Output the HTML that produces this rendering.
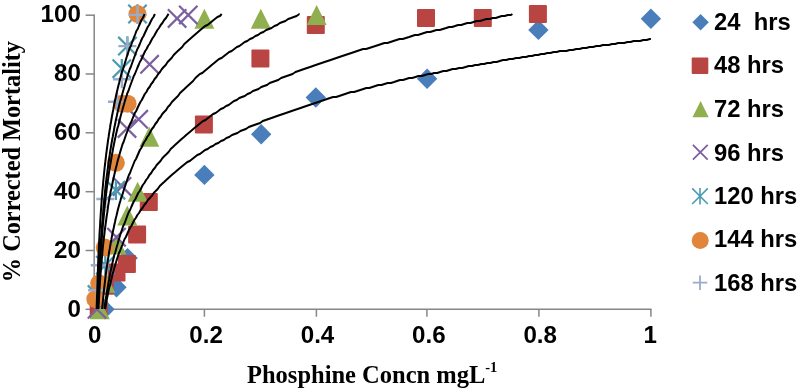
<!DOCTYPE html>
<html><head><meta charset="utf-8"><title>chart</title>
<style>
html,body{margin:0;padding:0;background:#fff;}
body{width:799px;height:388px;overflow:hidden;position:relative;font-family:"Liberation Sans",sans-serif;}
svg{position:absolute;left:0;top:0;will-change:transform;}
.a{font-family:"Liberation Sans",sans-serif;font-weight:bold;font-size:23px;fill:#000;}
.t{font-family:"Liberation Serif",serif;font-weight:bold;fill:#000;}
</style></head><body>
<svg width="799" height="388" viewBox="0 0 799 388">
<rect width="799" height="388" fill="#fff"/>
<g stroke="#868686" stroke-width="1.5" fill="none">
<path d="M94.2 14.5L94.2 309.3"/>
<path d="M94.2 309.3L651.6 309.3"/>
<path d="M85.60000000000001 309.3L94.2 309.3"/>
<path d="M94.2 309.3L94.2 316.7"/>
<path d="M85.60000000000001 250.5L94.2 250.5"/>
<path d="M204.4 309.3L204.4 316.7"/>
<path d="M85.60000000000001 191.7L94.2 191.7"/>
<path d="M316.4 309.3L316.4 316.7"/>
<path d="M85.60000000000001 132.8L94.2 132.8"/>
<path d="M426.9 309.3L426.9 316.7"/>
<path d="M85.60000000000001 74.0L94.2 74.0"/>
<path d="M538.9 309.3L538.9 316.7"/>
<path d="M85.60000000000001 15.2L94.2 15.2"/>
<path d="M650.9 309.3L650.9 316.7"/>
</g>
<text class="a" transform="translate(80.9 317.1) scale(1.05 1)" text-anchor="end">0</text>
<text class="a" transform="translate(80.9 258.0) scale(1.05 1)" text-anchor="end">20</text>
<text class="a" transform="translate(80.9 198.9) scale(1.05 1)" text-anchor="end">40</text>
<text class="a" transform="translate(80.9 139.7) scale(1.05 1)" text-anchor="end">60</text>
<text class="a" transform="translate(80.9 80.6) scale(1.05 1)" text-anchor="end">80</text>
<text class="a" transform="translate(80.9 21.5) scale(1.05 1)" text-anchor="end">100</text>
<text class="a" transform="translate(94.8 343.3) scale(1.05 1)" text-anchor="middle">0</text>
<text class="a" transform="translate(206.1 343.3) scale(1.05 1)" text-anchor="middle">0.2</text>
<text class="a" transform="translate(317.5 343.3) scale(1.05 1)" text-anchor="middle">0.4</text>
<text class="a" transform="translate(428.8 343.3) scale(1.05 1)" text-anchor="middle">0.6</text>
<text class="a" transform="translate(540.2 343.3) scale(1.05 1)" text-anchor="middle">0.8</text>
<text class="a" transform="translate(650.3 343.3) scale(1.05 1)" text-anchor="middle">1</text>
<path d="M104.5 299.1L114.7 309.3L104.5 319.5L94.3 309.3Z" fill="#4a7ebb"/>
<path d="M116.5 277.0L126.7 287.2L116.5 297.4L106.3 287.2Z" fill="#4a7ebb"/>
<path d="M127.6 247.9L137.8 258.1L127.6 268.3L117.4 258.1Z" fill="#4a7ebb"/>
<path d="M204.4 164.7L214.6 174.9L204.4 185.1L194.2 174.9Z" fill="#4a7ebb"/>
<path d="M261.2 124.1L271.4 134.3L261.2 144.5L251.0 134.3Z" fill="#4a7ebb"/>
<path d="M315.8 87.3L326.0 97.5L315.8 107.7L305.6 97.5Z" fill="#4a7ebb"/>
<path d="M427.1 68.5L437.3 78.7L427.1 88.9L416.9 78.7Z" fill="#4a7ebb"/>
<path d="M538.4 19.7L548.6 29.9L538.4 40.1L528.2 29.9Z" fill="#4a7ebb"/>
<path d="M650.9 8.5L661.1 18.7L650.9 28.9L640.7 18.7Z" fill="#4a7ebb"/>
<rect x="89.7" y="300.3" width="18" height="18" rx="1" fill="#b94542"/>
<rect x="95.8" y="276.8" width="18" height="18" rx="1" fill="#b94542"/>
<rect x="107.5" y="263.5" width="18" height="18" rx="1" fill="#b94542"/>
<rect x="117.9" y="255.0" width="18" height="18" rx="1" fill="#b94542"/>
<rect x="128.1" y="225.6" width="18" height="18" rx="1" fill="#b94542"/>
<rect x="139.8" y="193.0" width="18" height="18" rx="1" fill="#b94542"/>
<rect x="194.9" y="115.6" width="18" height="18" rx="1" fill="#b94542"/>
<rect x="251.4" y="49.4" width="18" height="18" rx="1" fill="#b94542"/>
<rect x="306.8" y="15.9" width="18" height="18" rx="1" fill="#b94542"/>
<rect x="417.0" y="9.1" width="18" height="18" rx="1" fill="#b94542"/>
<rect x="473.8" y="9.1" width="18" height="18" rx="1" fill="#b94542"/>
<rect x="528.9" y="5.0" width="18" height="18" rx="1" fill="#b94542"/>
<path d="M99.8 299.3L109.8 319.3L89.8 319.3Z" fill="#90b04f"/>
<path d="M105.3 272.8L115.3 292.8L95.3 292.8Z" fill="#90b04f"/>
<path d="M116.5 234.6L126.5 254.6L106.5 254.6Z" fill="#90b04f"/>
<path d="M127.3 205.5L137.3 225.5L117.3 225.5Z" fill="#90b04f"/>
<path d="M137.6 181.7L147.6 201.7L127.6 201.7Z" fill="#90b04f"/>
<path d="M149.3 126.7L159.3 146.7L139.3 146.7Z" fill="#90b04f"/>
<path d="M204.4 8.7L214.4 28.7L194.4 28.7Z" fill="#90b04f"/>
<path d="M260.8 8.7L270.8 28.7L250.8 28.7Z" fill="#90b04f"/>
<path d="M316.6 4.9L326.6 24.9L306.6 24.9Z" fill="#90b04f"/>
<path d="M87.8 300.1L106.2 318.5M87.8 318.5L106.2 300.1" stroke="#7d60a0" stroke-width="2.2" fill="none"/>
<path d="M107.3 228.0L125.7 246.4M107.3 246.4L125.7 228.0" stroke="#7d60a0" stroke-width="2.2" fill="none"/>
<path d="M112.8 177.2L131.2 195.6M112.8 195.6L131.2 177.2" stroke="#7d60a0" stroke-width="2.2" fill="none"/>
<path d="M117.8 119.2L136.2 137.6M117.8 137.6L136.2 119.2" stroke="#7d60a0" stroke-width="2.2" fill="none"/>
<path d="M129.5 110.1L147.9 128.5M129.5 128.5L147.9 110.1" stroke="#7d60a0" stroke-width="2.2" fill="none"/>
<path d="M140.4 55.1L158.8 73.5M140.4 73.5L158.8 55.1" stroke="#7d60a0" stroke-width="2.2" fill="none"/>
<path d="M167.9 9.2L186.3 27.6M167.9 27.6L186.3 9.2" stroke="#7d60a0" stroke-width="2.2" fill="none"/>
<path d="M179.1 5.7L197.5 24.1M179.1 24.1L197.5 5.7" stroke="#7d60a0" stroke-width="2.2" fill="none"/>
<path d="M87.8 285.4L106.2 303.8M87.8 303.8L106.2 285.4M97.0 284.8L97.0 304.3" stroke="#4a9cb3" stroke-width="2.2" fill="none"/>
<path d="M96.1 256.0L114.5 274.4M96.1 274.4L114.5 256.0M105.3 255.4L105.3 274.9" stroke="#4a9cb3" stroke-width="2.2" fill="none"/>
<path d="M106.7 181.0L125.1 199.4M106.7 199.4L125.1 181.0M115.9 180.4L115.9 199.9" stroke="#4a9cb3" stroke-width="2.2" fill="none"/>
<path d="M112.6 59.5L131.0 77.9M112.6 77.9L131.0 59.5M121.8 59.0L121.8 78.5" stroke="#4a9cb3" stroke-width="2.2" fill="none"/>
<path d="M118.2 36.9L136.6 55.3M118.2 55.3L136.6 36.9M127.4 36.3L127.4 55.8" stroke="#4a9cb3" stroke-width="2.2" fill="none"/>
<path d="M128.3 4.8L146.7 23.2M128.3 23.2L146.7 4.8M137.5 4.3L137.5 23.8" stroke="#4a9cb3" stroke-width="2.2" fill="none"/>
<circle cx="95.3" cy="299.0" r="9" fill="#e0853a"/>
<circle cx="99.2" cy="283.4" r="9" fill="#e0853a"/>
<circle cx="104.8" cy="247.5" r="9" fill="#e0853a"/>
<circle cx="115.9" cy="162.8" r="9" fill="#e0853a"/>
<circle cx="122.0" cy="103.7" r="9" fill="#e0853a"/>
<circle cx="127.6" cy="103.7" r="9" fill="#e0853a"/>
<circle cx="137.5" cy="14.0" r="9" fill="#e0853a"/>
<path d="M88.0 290.2L106.0 290.2M97.0 281.2L97.0 299.2" stroke="#9aacca" stroke-width="2.4" fill="none"/>
<path d="M90.8 265.2L108.8 265.2M99.8 256.2L99.8 274.2" stroke="#9aacca" stroke-width="2.4" fill="none"/>
<path d="M96.3 199.0L114.3 199.0M105.3 190.0L105.3 208.0" stroke="#9aacca" stroke-width="2.4" fill="none"/>
<path d="M108.0 101.7L126.0 101.7M117.0 92.7L117.0 110.7" stroke="#9aacca" stroke-width="2.4" fill="none"/>
<path d="M112.9 79.3L130.9 79.3M121.9 70.3L121.9 88.3" stroke="#9aacca" stroke-width="2.4" fill="none"/>
<path d="M118.4 46.1L136.4 46.1M127.4 37.1L127.4 55.1" stroke="#9aacca" stroke-width="2.4" fill="none"/>
<path d="M128.6 14.9L146.6 14.9M137.6 5.9L137.6 23.9" stroke="#9aacca" stroke-width="2.4" fill="none"/>
<g>
<path d="M96.7 309L96.7 306L96.8 303L96.9 300L97 297L97.1 294L97.2 291L97.3 288L97.4 285L97.5 282L97.6 279L97.7 276L97.8 273L97.9 270L98 267L98.1 264L98.2 261L98.4 258L98.5 255L98.6 252L98.8 249L98.9 246L99.1 243L99.2 240L99.4 237L99.5 234L99.7 231L99.9 228L100.1 225L100.2 222L100.4 219L100.6 216L100.8 213L101 210L101.3 206L101.5 203L101.7 200L101.9 197L102.2 194L102.4 191L102.7 188L103 185L103.2 182L103.5 179L103.8 176L104.1 173L104.4 170L104.7 167L105.1 164L105.4 161L105.8 158L106.1 155L106.5 152L106.9 149L107.3 146L107.7 143L108.1 140L108.6 137L109 134L109.5 131L110 128L110.4 125L111 122L111.5 119L112 116L112.6 113L113.2 110L113.7 107L114.3 104L114.9 101L115.6 98L116.2 95L116.9 92L117.6 89L118.3 86L119.1 83L119.8 80L120.6 77L121.4 74L122.2 71L123.1 69L124 66L124.9 63L125.8 60L126.7 57L127.7 54L128.7 51L129.7 48L130.8 46L131.9 43L133 40L134.1 37L135.3 34L136.4 31L137.7 29L138.9 26L140.2 23L141.5 20L142.8 18L144.2 15L144.5 14" fill="none" stroke="#000" stroke-width="2" stroke-linejoin="round" stroke-linecap="butt"/>
<path d="M97.7 309L97.8 306L97.9 303L98 300L98.1 297L98.2 294L98.3 291L98.5 288L98.6 285L98.7 282L98.8 279L99 276L99.1 273L99.3 270L99.4 267L99.6 264L99.7 261L99.9 258L100.1 255L100.3 252L100.4 249L100.6 246L100.8 243L101 240L101.2 237L101.4 234L101.6 231L101.9 228L102.1 225L102.3 222L102.6 219L102.8 216L103.1 213L103.3 210L103.6 206L103.9 203L104.2 200L104.5 197L104.8 194L105.1 191L105.4 188L105.7 185L106.1 182L106.4 179L106.8 176L107.2 173L107.6 170L108 167L108.4 164L108.8 161L109.2 158L109.7 155L110.1 152L110.6 149L111.1 146L111.6 143L112.1 140L112.7 137L113.2 134L113.8 131L114.3 128L114.9 125L115.5 122L116.1 119L116.8 116L117.4 113L118.1 110L118.8 107L119.5 104L120.3 101L121 99L121.8 96L122.6 93L123.4 90L124.3 87L125.1 84L126 81L126.9 78L127.8 75L128.8 72L129.8 69L130.8 67L131.8 64L132.9 61L134 58L135.1 55L136.2 52L137.4 49L138.5 47L139.8 44L141 41L142.3 38L143.6 36L144.9 33L146.3 30L147.7 27L149.1 25L150.5 22L152 19L153.5 17L154.9 14" fill="none" stroke="#000" stroke-width="2" stroke-linejoin="round" stroke-linecap="butt"/>
<path d="M97.9 309L98 306L98.1 303L98.2 300L98.4 297L98.5 294L98.6 291L98.8 288L98.9 285L99.1 282L99.2 279L99.4 276L99.5 273L99.7 270L99.9 267L100 264L100.2 261L100.4 258L100.6 255L100.8 252L101 249L101.2 246L101.5 243L101.7 240L101.9 237L102.2 234L102.4 231L102.7 228L102.9 225L103.2 222L103.5 219L103.8 216L104.1 213L104.4 210L104.7 206L105 203L105.4 200L105.7 197L106.1 194L106.5 191L106.8 188L107.2 185L107.6 182L108.1 179L108.5 176L108.9 173L109.4 170L109.9 167L110.4 164L110.9 161L111.4 158L111.9 155L112.5 152L113 149L113.6 146L114.2 143L114.8 140L115.5 137L116.1 134L116.8 131L117.5 128L118.2 126L118.9 123L119.7 120L120.4 117L121.2 114L122.1 111L122.9 108L123.8 105L124.6 102L125.5 99L126.5 96L127.4 93L128.4 91L129.4 88L130.5 85L131.6 82L132.7 79L133.8 76L134.9 74L136.1 71L137.3 68L138.6 65L139.8 62L141.1 60L142.4 57L143.8 54L145.2 51L146.6 49L148 46L149.5 44L151 41L152.6 38L154.1 36L155.7 33L157.4 30L159 28L160.7 25L162.4 23L164.2 20L166 18L167.8 15L168.7 14" fill="none" stroke="#000" stroke-width="2" stroke-linejoin="round" stroke-linecap="butt"/>
<path d="M98.4 309L98.6 306L98.8 303L98.9 300L99.1 297L99.3 294L99.4 291L99.6 288L99.8 285L100 282L100.2 279L100.4 276L100.7 273L100.9 270L101.1 267L101.4 264L101.6 261L101.9 258L102.2 255L102.4 252L102.7 249L103 246L103.3 243L103.7 240L104 237L104.4 234L104.7 231L105.1 228L105.5 225L105.9 222L106.3 219L106.7 216L107.2 213L107.6 210L108.1 206L108.6 203L109.1 200L109.6 197L110.2 194L110.7 191L111.3 189L111.9 186L112.5 183L113.1 180L113.8 177L114.5 174L115.2 171L115.9 168L116.7 165L117.4 162L118.2 159L119.1 156L119.9 153L120.8 150L121.7 147L122.6 144L123.6 142L124.6 139L125.6 136L126.7 133L127.8 130L128.9 127L130 124L131.2 122L132.4 119L133.6 116L134.9 113L136.2 111L137.5 108L138.9 105L140.4 102L141.8 100L143.3 97L144.8 94L146.4 92L147.9 89L149.6 87L151.2 84L152.9 82L154.6 79L156.4 77L158.2 74L160 72L161.9 69L163.7 67L165.7 65L167.6 62L169.6 60L171.6 58L173.7 55L175.7 53L177.8 51L180 49L182.2 47L184.3 44L186.6 42L188.8 40L191.1 38L193.4 36L195.7 34L198 32L200.3 30L202.7 28L205.1 26L207.5 25L210 23L212.4 21L214.9 19L217.4 17L219.9 16L221.7 14" fill="none" stroke="#000" stroke-width="2" stroke-linejoin="round" stroke-linecap="butt"/>
<path d="M102.1 309L102.4 306L102.7 303L103 300L103.3 297L103.6 294L103.9 291L104.2 288L104.6 285L104.9 282L105.3 279L105.6 276L106 273L106.4 270L106.8 267L107.3 264L107.7 261L108.2 258L108.7 255L109.1 252L109.7 249L110.2 246L110.7 243L111.3 240L111.8 237L112.4 234L113 231L113.7 228L114.3 225L115 222L115.6 219L116.4 216L117.1 213L117.8 210L118.6 207L119.4 204L120.3 201L121.1 198L122 196L122.9 193L123.8 190L124.8 187L125.8 184L126.8 181L127.8 178L128.9 175L130 173L131.1 170L132.3 167L133.5 164L134.7 161L136 159L137.3 156L138.6 153L139.9 150L141.3 148L142.7 145L144.2 142L145.7 140L147.2 137L148.7 135L150.3 132L151.9 129L153.6 127L155.3 124L157 122L158.7 119L160.5 117L162.3 114L164.1 112L166.1 110L167.9 107L169.9 105L171.9 102L173.9 100L175.9 98L178 96L180.1 93L182.2 91L184.4 89L186.5 87L188.7 85L190.9 83L193.1 81L195.4 78L197.6 76L199.9 74L202.3 73L204.6 71L207 69L209.4 67L211.7 65L214.2 63L216.6 61L219.1 59L221.6 58L224.1 56L226.7 54L229.2 52L231.7 51L234.3 49L236.9 47L239.4 46L242.1 44L244.7 42L247.3 41L250 39L252.6 38L255.4 36L258 35L260.7 33L263.4 32L266.2 30L268.9 29L271.6 28L274.4 26L277.2 25L279.9 23L282.6 22L285.4 21L288.2 19L291.1 18L293.8 17L296.6 16L299.4 14L299.6 14" fill="none" stroke="#000" stroke-width="2" stroke-linejoin="round" stroke-linecap="butt"/>
<path d="M104.4 309L104.8 306L105.2 303L105.7 300L106.1 297L106.6 294L107.1 291L107.6 288L108.1 285L108.6 282L109.2 279L109.7 276L110.3 273L110.9 270L111.6 267L112.2 264L112.9 261L113.6 258L114.3 255L115.1 253L115.9 250L116.7 247L117.6 244L118.4 241L119.3 238L120.2 235L121.2 232L122.2 229L123.2 226L124.3 224L125.4 221L126.5 218L127.6 215L128.8 212L130.1 210L131.3 207L132.6 204L134 201L135.4 199L136.8 196L138.2 193L139.7 191L141.3 188L142.8 185L144.4 183L146.1 180L147.7 178L149.4 175L151.2 173L153 170L154.8 168L156.7 165L158.6 163L160.5 161L162.5 158L164.5 156L166.6 154L168.6 152L170.7 149L172.9 147L175 145L177.2 143L179.4 141L181.6 139L184 137L186.2 135L188.6 133L191 131L193.3 129L195.7 127L198.1 125L200.6 123L203.1 121L205.5 120L208 118L210.6 116L213.1 114L215.6 113L218.3 111L220.8 109L223.4 108L226.1 106L228.7 105L231.3 103L234 101L236.7 100L239.3 98L242 97L244.8 96L247.5 94L250.2 93L253 91L255.8 90L258.5 89L261.3 87L264.1 86L267 85L269.7 83L272.5 82L275.3 81L278.2 80L281.1 78L283.9 77L286.8 76L289.7 75L292.6 74L295.5 72L298.4 71L301.2 70L304.1 69L307.1 68L310.1 67L312.9 66L315.7 65L318.6 64L321.6 63L324.5 62L327.6 61L330.6 60L333.5 59L336.4 58L339.3 57L342.3 56L345.3 55L348.3 54L351.4 53L354.3 52L357.2 51L360.2 50L363.1 49L366.1 49L369.2 48L372.3 47L375.4 46L378.5 45L381.4 44L384.4 43L387.4 43L390.4 42L393.4 41L396.5 40L399.6 39L402.7 39L405.9 38L409.1 37L412 36L415 35L418 35L421 34L424 33L427.1 32L430.2 32L433.3 31L436.5 30L439.7 30L442.9 29L446.2 28L449.1 27L452.1 27L455.1 26L458.1 25L461.2 25L464.2 24L467.3 23L470.5 23L473.6 22L476.8 21L480 21L483.2 20L486.5 19L489.8 19L492.7 18L495.7 18L498.7 17L501.7 16L504.7 16L507.8 15L510.9 15L512.4 14" fill="none" stroke="#000" stroke-width="2" stroke-linejoin="round" stroke-linecap="butt"/>
<path d="M105.2 309L105.7 306L106.2 303L106.7 300L107.3 297L107.9 294L108.5 291L109.1 288L109.8 286L110.5 283L111.2 280L111.9 277L112.7 274L113.5 271L114.3 268L115.2 265L116.1 262L117 259L118 256L119 253L120 251L121.1 248L122.3 245L123.4 242L124.6 239L125.9 237L127.2 234L128.5 231L129.9 228L131.3 226L132.8 223L134.3 220L135.8 218L137.4 215L139 213L140.7 210L142.5 208L144.3 205L146 203L147.9 200L149.8 198L151.7 196L153.7 193L155.7 191L157.7 189L159.8 186L161.9 184L164.1 182L166.2 180L168.4 178L170.6 176L172.9 174L175.3 172L177.6 170L180 168L182.4 166L184.9 164L187.3 162L189.8 161L192.3 159L194.8 157L197.3 155L199.9 154L202.5 152L205.1 150L207.7 149L210.3 147L212.9 146L215.6 144L218.3 143L221 141L223.8 140L226.4 138L229.2 137L232 135L234.7 134L237.5 133L240.4 131L243.1 130L245.9 129L248.8 127L251.5 126L254.3 125L257.2 124L260.1 123L262.8 121L265.7 120L268.6 119L271.5 118L274.3 117L277.1 116L280 115L283 114L286 113L288.8 112L291.7 111L294.6 110L297.6 109L300.6 108L303.4 107L306.3 106L309.3 105L312.2 104L315.3 103L318.3 102L321.2 101L324.1 100L327 99L330 98L333.1 97L336.1 97L339.2 96L342.1 95L345.1 94L348 93L351 92L354.1 92L357.2 91L360.3 90L363.4 89L366.3 88L369.3 88L372.3 87L375.3 86L378.3 85L381.4 85L384.5 84L387.7 83L390.9 83L394.1 82L397 81L400 80L403 80L406.1 79L409.1 78L412.2 78L415.4 77L418.5 76L421.7 76L425 75L428.2 74L431.2 74L434.2 73L437.2 73L440.2 72L443.3 71L446.4 71L449.5 70L452.7 69L455.8 69L459 68L462.3 68L465.5 67L468.8 66L472.1 66L475.1 65L478.1 65L481.1 64L484.2 64L487.3 63L490.4 63L493.5 62L496.6 62L499.8 61L503 60L506.2 60L509.4 59L512.7 59L516 58L519.3 58L522.7 57L526.1 57L529 56L532 56L535 55L538.1 55L541.1 54L544.2 54L547.3 53L550.4 53L553.6 52L556.7 52L559.9 51L563.1 51L566.4 51L569.6 50L572.9 50L576.2 49L579.5 49L582.8 48L586.2 48L589.6 47L593 47L596.4 46L599.9 46L602.9 45L605.9 45L608.9 45L611.9 44L615 44L618.1 43L621.2 43L624.3 43L627.4 42L630.5 42L633.7 41L636.9 41L640.1 41L643.3 40L646.6 40L649.8 39L650.9 39" fill="none" stroke="#000" stroke-width="2" stroke-linejoin="round" stroke-linecap="butt"/>
</g>
<path d="M700.6 14.0L708.8 22.2L700.6 30.4L692.4 22.2Z" fill="#4a7ebb"/>
<rect x="691.7" y="57.4" width="16.6" height="16.6" rx="1" fill="#b94542"/>
<path d="M700.6 101.1L708.7 117.3L692.5 117.3Z" fill="#90b04f"/>
<path d="M692.9 144.8L707.7 159.6M692.9 159.6L707.7 144.8" stroke="#7d60a0" stroke-width="1.8" fill="none"/>
<path d="M692.2 188.4L707.8 204.0M692.2 204.0L707.8 188.4M700.0 187.9L700.0 204.5" stroke="#4a9cb3" stroke-width="1.6" fill="none"/>
<circle cx="700.2" cy="240.5" r="8.5" fill="#e0853a"/>
<path d="M692.7 282.7L707.3 282.7M700.0 275.4L700.0 290.0" stroke="#9aacca" stroke-width="1.8" fill="none"/>
<text class="a" transform="translate(714.0 29.9) scale(1.035 1)" xml:space="preserve">24  hrs</text>
<text class="a" transform="translate(714.0 73.4) scale(1.035 1)" xml:space="preserve">48 hrs</text>
<text class="a" transform="translate(714.0 116.9) scale(1.035 1)" xml:space="preserve">72 hrs</text>
<text class="a" transform="translate(714.0 161.1) scale(1.035 1)" xml:space="preserve">96 hrs</text>
<text class="a" transform="translate(714.0 203.9) scale(1.035 1)" xml:space="preserve">120 hrs</text>
<text class="a" transform="translate(714.0 247.4) scale(1.035 1)" xml:space="preserve">144 hrs</text>
<text class="a" transform="translate(714.0 290.9) scale(1.035 1)" xml:space="preserve">168 hrs</text>
<text class="t" font-size="24.5" x="247" y="382.6">Phosphine Concn mgL<tspan font-size="14.5" dy="-10.5">-1</tspan></text>
<text class="t" font-size="24.3" transform="translate(20.4 282.2) rotate(-90)">% Corrected Mortality</text>
</svg></body></html>
